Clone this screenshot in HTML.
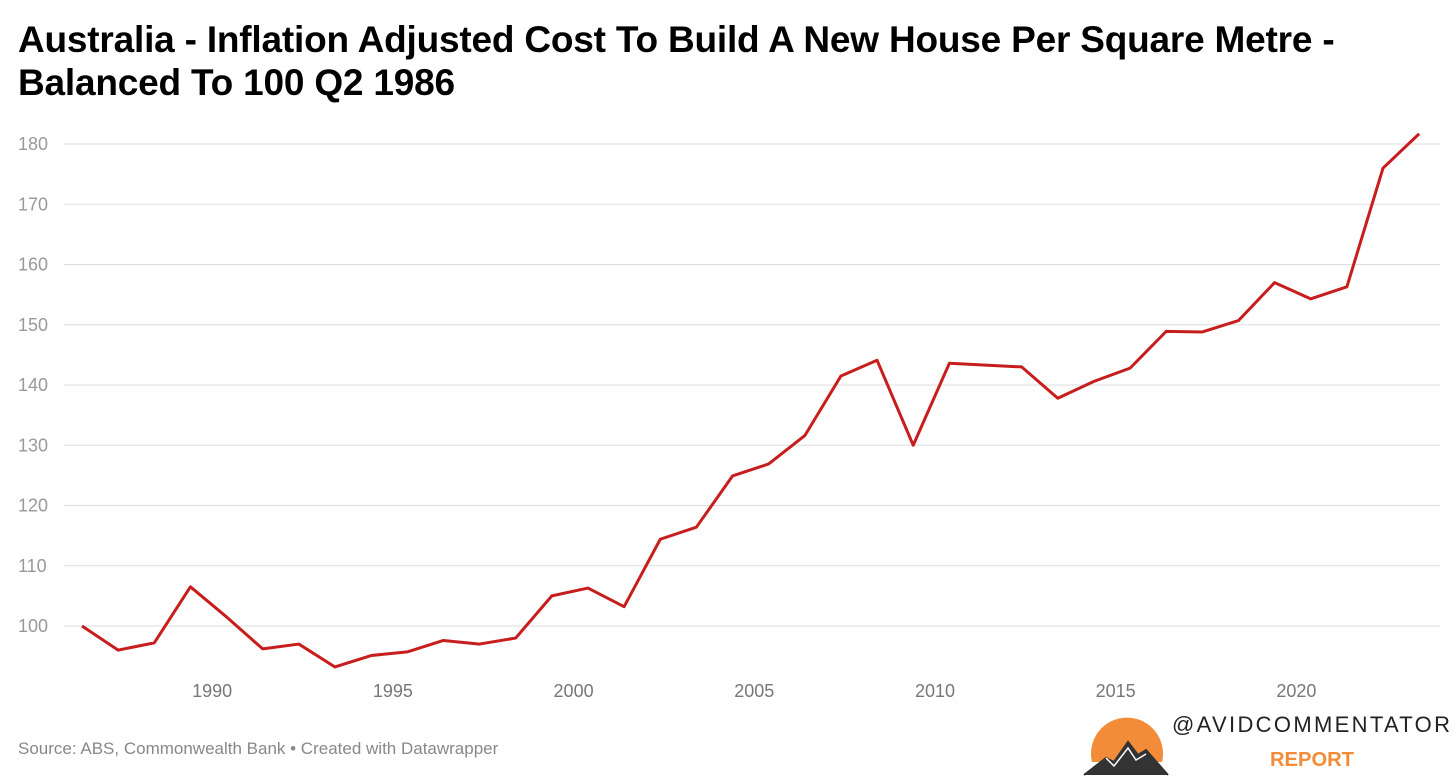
<!DOCTYPE html>
<html><head><meta charset="utf-8"><style>
body{margin:0;width:1456px;height:779px;background:#fff;overflow:hidden;font-family:"Liberation Sans",sans-serif;}
#title{position:absolute;left:18px;top:18px;font-size:37px;font-weight:bold;line-height:43px;color:#000;letter-spacing:-0.2px;white-space:nowrap;}
#src{position:absolute;left:18px;top:739px;font-size:17px;color:#888;}
</style></head><body>
<svg id="chart" width="1456" height="779" style="position:absolute;left:0;top:0"></svg>
<div id="title">Australia - Inflation Adjusted Cost To Build A New House Per Square Metre -<br>Balanced To 100 Q2 1986</div>
<div id="src">Source: ABS, Commonwealth Bank • Created with Datawrapper</div>
<svg width="380" height="79" style="position:absolute;left:1076px;top:700px">
<path d="M16,62 A36,36 0 1 1 86,62 Z" fill="#f28c38"/>
<path d="M8,75 L30,58 L38,62 L52,42 L62,55 L70,50 L92,75" fill="#333" stroke="#333" stroke-width="2"/>
<path d="M30,58 L38,66 L52,48 L60,60 L70,54" fill="none" stroke="#fff" stroke-width="1.5"/>
<text x="96" y="32" font-size="22" textLength="278" lengthAdjust="spacing" fill="#222" font-family="Liberation Sans, sans-serif">@AVIDCOMMENTATOR</text>
<text x="194" y="66" font-size="20" font-weight="bold" textLength="84" lengthAdjust="spacingAndGlyphs" fill="#f28c38" font-family="Liberation Sans, sans-serif">REPORT</text>
</svg>
<script>
const values=[100,96,97.2,106.5,101.5,96.2,97,93.2,95.1,95.7,97.6,97,98,105,106.3,103.2,114.4,116.4,124.9,126.9,131.6,141.5,144.1,130,143.6,143.3,143,137.8,140.6,142.8,148.9,148.8,150.7,157,154.3,156.3,176,181.7];
const startYear=1986.4;
const yTicks=[100,110,120,130,140,150,160,170,180];
const xTicks=[1990,1995,2000,2005,2010,2015,2020];
const NS="http://www.w3.org/2000/svg";
const svg=document.getElementById('chart');
const y=v=>626-(v-100)*6.025;
const x=yr=>82+(yr-startYear)*36.14;
for(const t of yTicks){
 const l=document.createElementNS(NS,'line');
 
 
 l.setAttribute('x1',64);l.setAttribute('x2',1440);l.setAttribute('y1',y(t));l.setAttribute('y2',y(t));
 l.setAttribute('stroke','#ddd');l.setAttribute('stroke-width','1');svg.appendChild(l);
 const tx=document.createElementNS(NS,'text');
 
 
 tx.setAttribute('x',18);tx.setAttribute('y',y(t)+6);tx.setAttribute('font-size','18');tx.setAttribute('fill','#999');
 tx.textContent=t;svg.appendChild(tx);
}
for(const t of xTicks){
 const tx=document.createElementNS(NS,'text');
 
 
 tx.setAttribute('x',x(t+0.5)-18);tx.setAttribute('y',697);tx.setAttribute('font-size','18');tx.setAttribute('fill','#777');tx.setAttribute('text-anchor','middle');
 tx.textContent=t;svg.appendChild(tx);
}
const p=document.createElementNS(NS,'polyline');


p.setAttribute('points',values.map((v,i)=>x(startYear+i)+','+y(v)).join(' '));
p.setAttribute('fill','none');p.setAttribute('stroke','#c71e1d');p.setAttribute('stroke-width','3');p.setAttribute('stroke-linejoin','round');
svg.appendChild(p);
</script>
</body></html>
